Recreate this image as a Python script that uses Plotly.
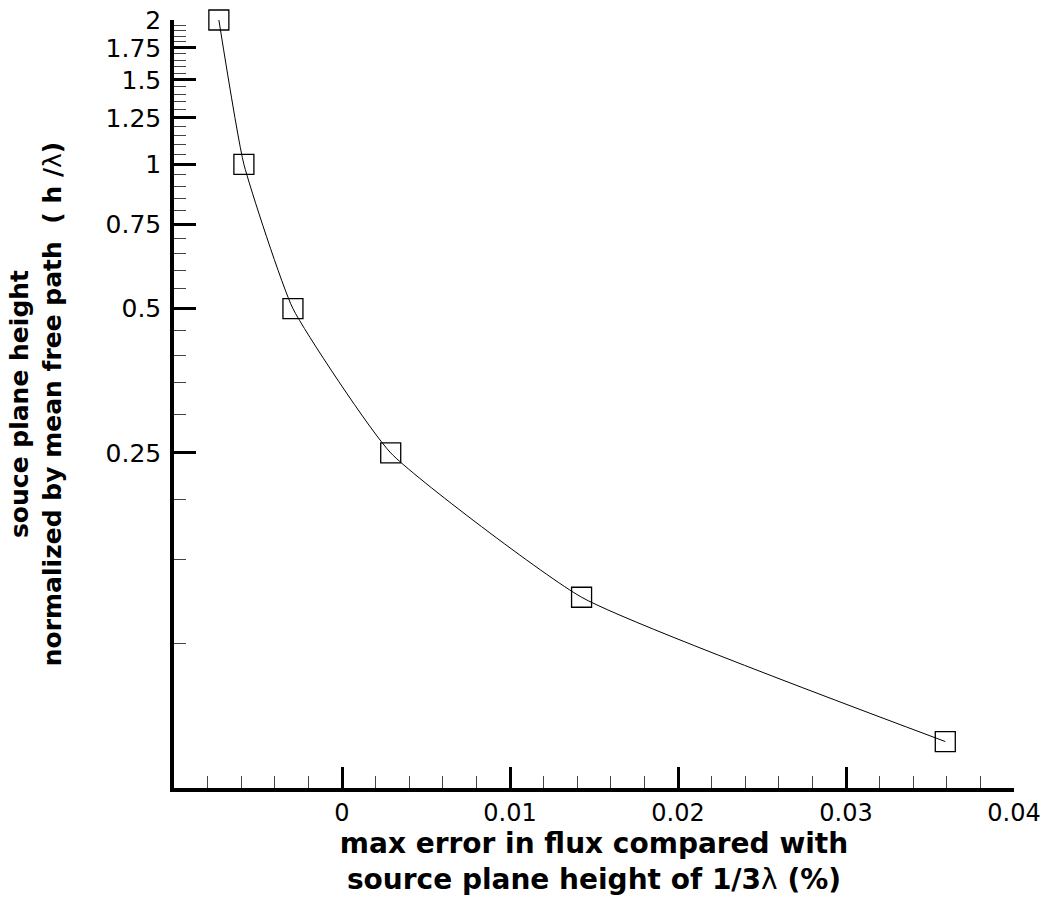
import plotly.graph_objects as go

# Data
max_error = [-0.00733, -0.00584, -0.00292, 0.0029, 0.01426, 0.03591]
height_ratio = [2.0, 1.0, 0.5, 0.25, 0.125, 0.0625]

x_tickvals = [0, 0.01, 0.02, 0.03, 0.04]
x_ticktext = ["0", "0.01", "0.02", "0.03", "0.04"]
x_minor = [-0.008, -0.006, -0.004, -0.002, 0.002, 0.004, 0.006, 0.008,
           0.012, 0.014, 0.016, 0.018, 0.022, 0.024, 0.026, 0.028,
           0.032, 0.034, 0.036, 0.038]

y_tickvals = [0.25, 0.5, 0.75, 1, 1.25, 1.5, 1.75, 2]
y_ticktext = ["0.25", "0.5", "0.75", "1", "1.25", "1.5", "1.75", "2"]
y_minor = [0.1, 0.15, 0.2, 0.3, 0.35, 0.4, 0.45, 0.55, 0.6, 0.65, 0.7,
           0.8, 0.85, 0.9, 0.95, 1.05, 1.1, 1.15, 1.2, 1.3, 1.35, 1.4, 1.45,
           1.55, 1.6, 1.65, 1.7, 1.8, 1.85, 1.9, 1.95]

FONT = "DejaVu Sans"
LAM = "<span style='font-weight:normal'>λ</span>"

fig = go.Figure()
fig.add_trace(go.Scatter(
    x=max_error, y=height_ratio,
    mode="lines+markers",
    line=dict(color="black", width=1, shape="spline", smoothing=0.45),
    marker=dict(symbol="square-open", size=20, color="black",
                line=dict(width=1.3, color="black")),
    showlegend=False,
    cliponaxis=False,
))

fig.update_layout(
    width=1048, height=901,
    margin=dict(l=174, r=34, t=20, b=113, autoexpand=False),
    paper_bgcolor="white", plot_bgcolor="white",
    font=dict(family=FONT, color="black"),
)

fig.update_xaxes(
    range=[-0.01, 0.04],
    automargin=False,
    showgrid=False, zeroline=False,
    showline=True, linecolor="black", linewidth=3.5,
    ticks="inside", ticklen=21, tickwidth=2.5, tickcolor="black",
    tickvals=x_tickvals, ticktext=x_ticktext,
    tickfont=dict(family=FONT, size=24, color="black"),
    minor=dict(ticks="inside", ticklen=12, tickwidth=1.4, tickcolor="#444444",
               tickmode="array", tickvals=x_minor, showgrid=False),
    title=dict(
        text="max error in flux compared with<br>source plane height of 1/3" + LAM + " (%)",
        font=dict(family=FONT, size=28, color="black", weight="bold"),
        standoff=8,
    ),
)

fig.update_yaxes(
    type="log",
    range=[-1.30103, 0.30103],
    automargin=False,
    showgrid=False, zeroline=False,
    showline=True, linecolor="black", linewidth=3.5,
    ticks="inside", ticklen=22, tickwidth=3, tickcolor="black",
    tickvals=y_tickvals, ticktext=y_ticktext,
    tickfont=dict(family=FONT, size=25, color="black"),
    ticklabelstandoff=4,
    minor=dict(ticks="inside", ticklen=12, tickwidth=1.4, tickcolor="#444444",
               tickmode="array", tickvals=y_minor, showgrid=False),
    title=dict(
        text="souce plane height<br>normalized by mean free path \u00a0( h /" + LAM + ")",
        font=dict(family=FONT, size=25, color="black", weight="bold"),
        standoff=38,
    ),
)

fig.write_html("out.html")
